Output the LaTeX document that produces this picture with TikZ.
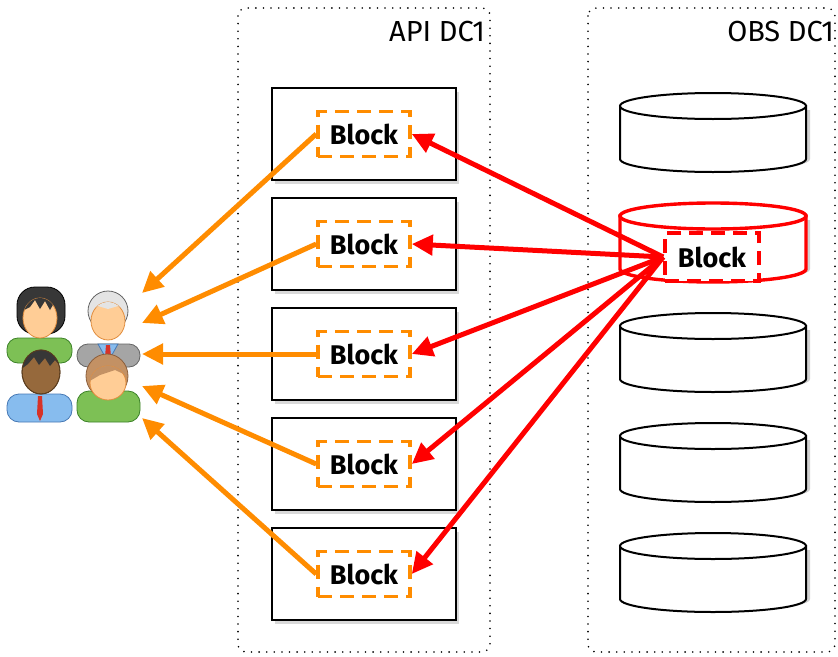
\documentclass[tikz,border=0pt]{standalone}
\usepackage{fontspec}
\setmainfont{Fira Sans}
\usetikzlibrary{arrows.meta,shadows}

\definecolor{arrorange}{RGB}{255,140,0}
\definecolor{arrred}{RGB}{255,0,0}
\definecolor{skin}{RGB}{255,205,150}
\definecolor{skinedge}{RGB}{225,140,60}
\definecolor{darkskin}{RGB}{150,105,60}
\definecolor{darkskinedge}{RGB}{90,60,30}
\definecolor{hairblack}{RGB}{55,55,55}
\definecolor{hairgray}{RGB}{228,228,228}
\definecolor{hairbrown}{RGB}{195,145,100}
\definecolor{hairbrownedge}{RGB}{140,95,60}
\definecolor{shirtgreen}{RGB}{125,192,85}
\definecolor{shirtgreenedge}{RGB}{60,130,40}
\definecolor{suitgray}{RGB}{165,165,165}
\definecolor{suitgrayedge}{RGB}{100,100,100}
\definecolor{shirtblue}{RGB}{135,188,238}
\definecolor{shirtblueedge}{RGB}{70,120,180}
\definecolor{tiered}{RGB}{215,50,40}

% cylinder drawn from its top edge: #1 top y, #2 stroke colour, #3 line width
\newcommand\storecyl[3]{%
  \fill[black,opacity=0.18] (624,{#1+17}) -- (624,{#1+66})
    arc[start angle=180,end angle=0,x radius=93,y radius=13] -- (810,{#1+17}) -- cycle;
  \filldraw[fill=white,draw=#2,line width=#3] (620,{#1+13}) -- (620,{#1+66})
    arc[start angle=180,end angle=0,x radius=93,y radius=13] -- (806,{#1+13}) -- cycle;
  \filldraw[fill=white,draw=#2,line width=#3] (713,{#1+13}) ellipse [x radius=93,y radius=13];
}

\begin{document}
\begin{tikzpicture}[x=1pt,y=-1pt,
  zone/.style={draw,line width=1.8pt,dash pattern=on 0pt off 7.6pt,line cap=round,rounded corners=8pt},
  zonelabel/.style={font=\fontsize{29}{33}\selectfont,inner sep=0pt},
  apibox/.style={draw,line width=2pt,fill=white,minimum width=184pt,minimum height=92pt,
    drop shadow={opacity=0.3,shadow xshift=3pt,shadow yshift=-4pt}},
  blocktag/.style={line width=3.6pt,dash pattern=on 14pt off 8pt,fill=white,
    minimum width=92pt,minimum height=45pt,inner sep=0pt,
    font=\fontsize{27}{31}\selectfont\bfseries},
  orangeblock/.style={blocktag,draw=arrorange},
  redblock/.style={blocktag,draw=arrred,minimum width=94pt,minimum height=48pt},
  toclient/.style={draw=arrorange,line width=5pt,-{Triangle[length=21pt,width=20pt]}},
  fromstore/.style={draw=arrred,line width=5pt,-{Triangle[length=21pt,width=20pt]}},
  figline/.style={line width=0.8pt}
]
\useasboundingbox (0,0) rectangle (838,656);

% data-centre zones
\draw[zone] (238,8) rectangle (490,652);
\draw[zone] (588,8) rectangle (835,652);
\node[zonelabel,anchor=north east] (apilabel) at (485,21) {API DC1};
\node[zonelabel,anchor=north east] (obslabel) at (834,21) {OBS DC1};

% API servers, each holding a block
\foreach \i/\y in {1/134,2/244,3/354,4/464,5/574}{
  \node[apibox] (api\i) at (364,\y) {};
  \node[orangeblock] (b\i) at (364,\y) {Block};
}

% object store
\storecyl{93}{black}{2pt}
\storecyl{203}{arrred}{3.4pt}
\storecyl{313}{black}{2pt}
\storecyl{423}{black}{2pt}
\storecyl{533}{black}{2pt}
\node[redblock] (ob) at (712,257) {Block};

% clients
% top-left woman
\filldraw[figline,fill=hairblack,draw=black,rounded corners=18pt] (17,334) -- (17,287) -- (65,287) -- (65,334) -- cycle;
\filldraw[figline,fill=shirtgreen,draw=shirtgreenedge,rounded corners=11pt] (7,363) -- (7,338) -- (72,338) -- (72,363) -- cycle;
\filldraw[figline,fill=skin,draw=skinedge] (40,318) ellipse [x radius=17,y radius=20];
\begin{scope}
  \clip (40,318) ellipse [x radius=17,y radius=20];
  \fill[hairblack] (18,290) -- (62,290) -- (62,312) -- (54,303) -- (50,310) -- (45,301) -- (40,309) -- (35,300) -- (30,307) -- (18,313) -- cycle;
\end{scope}
% top-right older man
\filldraw[figline,fill=suitgray,draw=suitgrayedge,rounded corners=11pt] (77,367) -- (77,344) -- (140,344) -- (140,367) -- cycle;
\filldraw[figline,fill=shirtblue,draw=shirtblueedge] (98,344) -- (118,344) -- (108,362) -- cycle;
\fill[tiered] (106,345) -- (110,345) -- (111,357) -- (108,362) -- (105,357) -- cycle;
\filldraw[figline,fill=hairgray,draw=suitgrayedge] (108,311) ellipse [x radius=20,y radius=20];
\filldraw[figline,fill=skin,draw=skinedge] (108,321) ellipse [x radius=17,y radius=19];
\begin{scope}
  \clip (108,321) ellipse [x radius=17,y radius=19];
  \fill[hairgray] (88,298) -- (128,298) -- (128,314) -- (118,306) -- (108,309) -- (98,306) -- (88,314) -- cycle;
\end{scope}
% bottom-left man
\filldraw[figline,fill=shirtblue,draw=shirtblueedge,rounded corners=12pt] (7,422) -- (7,394) -- (72,394) -- (72,422) -- cycle;
\fill[tiered] (38,396) -- (42,396) -- (43,414) -- (40,421) -- (37,414) -- cycle;
\filldraw[figline,fill=darkskin,draw=darkskinedge] (41,372) ellipse [x radius=19,y radius=22];
\begin{scope}
  \clip (41,372) ellipse [x radius=19,y radius=22];
  \fill[hairblack] (20,348) -- (62,348) -- (62,368) -- (55,360) -- (50,366) -- (45,358) -- (39,365) -- (34,357) -- (28,364) -- (20,370) -- cycle;
\end{scope}
\draw[figline,draw=darkskinedge] (41,372) ellipse [x radius=19,y radius=22];
% bottom-right person
\filldraw[figline,fill=shirtgreen,draw=shirtgreenedge,rounded corners=12pt] (77,422) -- (77,391) -- (140,391) -- (140,422) -- cycle;
\filldraw[figline,fill=hairbrown,draw=hairbrownedge] (107,376) ellipse [x radius=21,y radius=22];
\filldraw[figline,fill=skin,draw=skinedge] (108,383) ellipse [x radius=18,y radius=17];
\begin{scope}
  \clip (108,383) ellipse [x radius=18,y radius=17];
  \fill[hairbrown] (88,362) -- (128,362) -- (128,376) -- (115,370) -- (100,375) -- (88,382) -- cycle;
\end{scope}

% where the client arrows end
\coordinate (u1) at (142,293);
\coordinate (u2) at (142,323);
\coordinate (u3) at (142,354);
\coordinate (u4) at (142,386);
\coordinate (u5) at (142,418);

% blocks served to the clients
\foreach \i in {1,...,5}{
  \draw[toclient] (b\i.west) -- (u\i);
}
% block fetched from the object store
\foreach \i in {1,...,5}{
  \draw[fromstore] (ob.west) -- (b\i.east);
}
\end{tikzpicture}
\end{document}
